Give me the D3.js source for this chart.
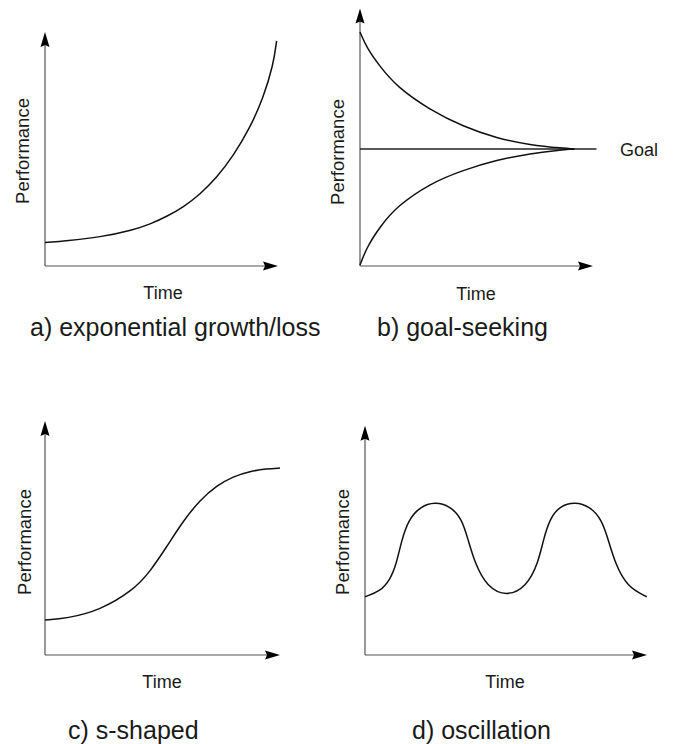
<!DOCTYPE html>
<html>
<head>
<meta charset="utf-8">
<script src="https://cdn.jsdelivr.net/npm/d3@7"></script>
<style>
  html, body { margin: 0; padding: 0; background: #fff; }
  svg { display: block; }
  text { font-family: "Liberation Sans", Arial, sans-serif; fill: #1a1a1a; }
</style>
</head>
<body>
<svg id="chart" width="673" height="744"></svg>
<script>
// ---------- DATA ----------
// a) exponential growth/loss
const expTime = [0, 0.93, 2.36, 3.79, 4.51, 5.22, 5.94, 6.65, 7.37, 8.08, 8.80, 9.37, 9.80, 9.94];
const expPerf = [1.00, 1.07, 1.23, 1.54, 1.79, 2.11, 2.52, 3.06, 3.78, 4.70, 5.91, 7.19, 8.60, 9.62];

// b) goal-seeking
const goalValue = 5;
const goalTime  = [0, 0.3, 0.86, 1.57, 3.0, 4.43, 5.87, 7.30, 8.73, 9.2];
const goalUpper = [10, 9.3, 8.52, 7.67, 6.67, 5.96, 5.46, 5.17, 5.03, 5.0];
const goalLower = [0.04, 0.82, 1.68, 2.54, 3.53, 4.10, 4.53, 4.81, 4.97, 5.0];

// c) s-shaped
const sTime = [0, 0.92, 2.34, 3.76, 4.47, 5.18, 5.89, 6.60, 7.31, 8.01, 8.72, 9.43, 10.0];
const sPerf = [1.50, 1.56, 1.91, 2.77, 3.56, 4.63, 5.74, 6.63, 7.24, 7.63, 7.85, 7.96, 7.99];

// d) oscillation
const oscTime = [0, 0.53, 0.89, 1.12, 1.30, 1.54, 1.95, 2.48, 3.01, 3.43, 3.66, 3.90, 4.32, 5.02,
                 5.73, 6.14, 6.32, 6.56, 6.91, 7.45, 7.98, 8.39, 8.63, 8.87, 9.29, 9.99];
const oscPerf = [2.49, 2.71, 3.21, 3.92, 4.91, 5.77, 6.34, 6.55, 6.37, 5.84, 4.91, 3.92, 2.92, 2.49,
                 2.92, 3.92, 4.91, 5.84, 6.37, 6.55, 6.34, 5.80, 4.91, 3.92, 2.92, 2.49];

// labels
const captions = ["a) exponential growth/loss", "b) goal-seeking", "c) s-shaped", "d) oscillation"];
const xLabel = "Time";
const yLabel = "Performance";
const goalLabel = "Goal";

// ---------- LAYOUT ----------
const svg = d3.select("#chart");

const panels = [
  { x0: 45,  x1: 278, y0: 266, y1: 32,  yTip: 10,  xTip: 10,
    yLab: [29, 151], xLab: [163, 299], cap: [30, 336] },
  { x0: 360, x1: 593, y0: 266, y1: 32,  yTip: 11,  xTip: 10,
    yLab: [344, 152], xLab: [476, 300], cap: [377, 336] },
  { x0: 45,  x1: 280, y0: 655, y1: 421, yTip: 10,  xTip: 10,
    yLab: [31, 542], xLab: [162, 688], cap: [68, 739] },
  { x0: 365, x1: 647, y0: 655, y1: 421, yTip: 9.8, xTip: 10,
    yLab: [349, 542], xLab: [505, 688], cap: [412, 739] }
];

panels.forEach(p => {
  p.x = d3.scaleLinear().domain([0, 10]).range([p.x0, p.x1]);
  p.y = d3.scaleLinear().domain([0, 10]).range([p.y0, p.y1]);
});

function arrowHead(g, tx, ty, dir) {
  const L = 15, hw = 4.5, notch = 2;
  let d;
  if (dir === "up") {
    d = `M${tx},${ty} L${tx - hw},${ty + L} L${tx},${ty + L - notch} L${tx + hw},${ty + L} Z`;
  } else {
    d = `M${tx},${ty} L${tx - L},${ty - hw} L${tx - L + notch},${ty} L${tx - L},${ty + hw} Z`;
  }
  g.append("path").attr("d", d).attr("fill", "#000");
}

function drawAxes(p, i) {
  const g = svg.append("g");
  const ox = p.x(0), oy = p.y(0);
  const ty = p.y(p.yTip), tx = p.x(p.xTip);
  g.append("line").attr("x1", ox).attr("y1", oy).attr("x2", ox).attr("y2", ty + 4)
    .attr("stroke", "#555").attr("stroke-width", 1.2);
  g.append("line").attr("x1", ox).attr("y1", oy).attr("x2", tx - 4).attr("y2", oy)
    .attr("stroke", "#555").attr("stroke-width", 1.2);
  arrowHead(g, ox, ty, "up");
  arrowHead(g, tx, oy, "right");

  g.append("text")
    .attr("transform", `translate(${p.yLab[0]},${p.yLab[1]}) rotate(-90)`)
    .attr("text-anchor", "middle").attr("font-size", 18.5).text(yLabel);
  g.append("text")
    .attr("x", p.xLab[0]).attr("y", p.xLab[1])
    .attr("text-anchor", "middle").attr("font-size", 18).text(xLabel);
  g.append("text")
    .attr("x", p.cap[0]).attr("y", p.cap[1])
    .attr("font-size", 25).text(captions[i]);
  return g;
}

function drawCurve(p, xs, ys) {
  const pts = xs.map((t, k) => [t, ys[k]]);
  const line = d3.line()
    .x(d => p.x(d[0])).y(d => p.y(d[1]))
    .curve(d3.curveBasis);
  svg.append("path").datum(pts)
    .attr("d", line)
    .attr("fill", "none").attr("stroke", "#111").attr("stroke-width", 1.5)
    .attr("stroke-linejoin", "round");
}

panels.forEach((p, i) => drawAxes(p, i));

// a
drawCurve(panels[0], expTime, expPerf);

// b
const pb = panels[1];
svg.append("line")
  .attr("x1", pb.x(0)).attr("x2", pb.x(10.15))
  .attr("y1", pb.y(goalValue)).attr("y2", pb.y(goalValue))
  .attr("stroke", "#222").attr("stroke-width", 1.3);
drawCurve(pb, goalTime, goalUpper);
drawCurve(pb, goalTime, goalLower);
svg.append("text")
  .attr("x", 620).attr("y", pb.y(goalValue) + 6.5)
  .attr("font-size", 18).text(goalLabel);

// c
drawCurve(panels[2], sTime, sPerf);

// d
drawCurve(panels[3], oscTime, oscPerf);
</script>
</body>
</html>
